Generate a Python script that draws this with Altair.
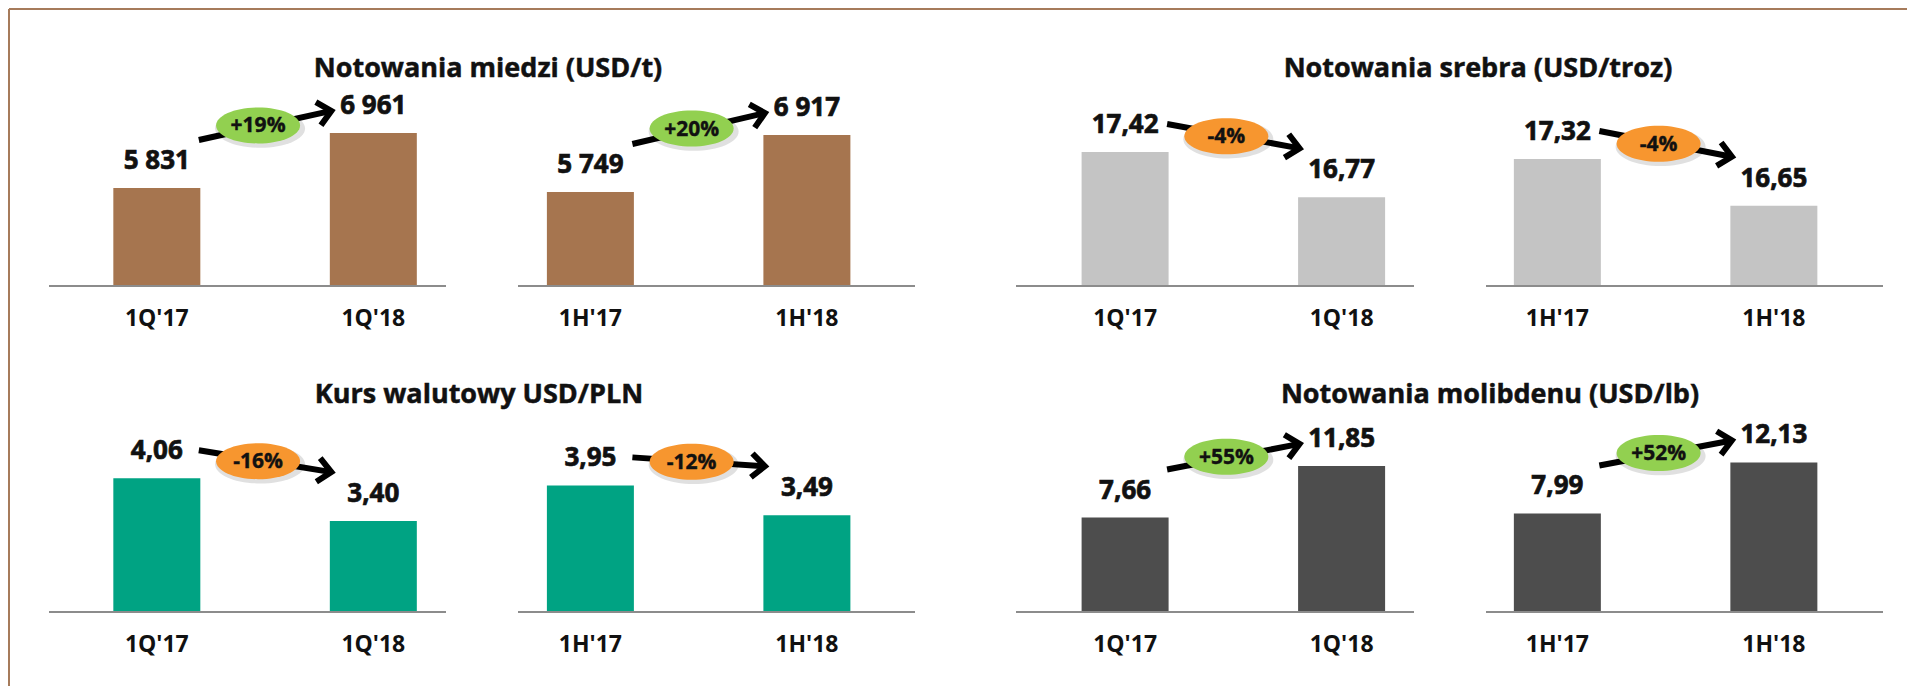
import math
import altair as alt
import pandas as pd

# ---------------- data ----------------
periods_q = ["1Q'17", "1Q'18"]
periods_h = ["1H'17", "1H'18"]

title_copper = "Notowania miedzi (USD/t)"
title_silver = "Notowania srebra (USD/troz)"
title_usdpln = "Kurs walutowy USD/PLN"
title_molyb = "Notowania molibdenu (USD/lb)"

copper_q = [5831, 6961]
copper_h = [5749, 6917]
silver_q = [17.42, 16.77]
silver_h = [17.32, 16.65]
usdpln_q = [4.06, 3.40]
usdpln_h = [3.95, 3.49]
molyb_q = [7.66, 11.85]
molyb_h = [7.99, 12.13]

copper_chg = ["+19%", "+20%"]
silver_chg = ["-4%", "-4%"]
usdpln_chg = ["-16%", "-12%"]
molyb_chg = ["+55%", "+52%"]

# ---------------- styles ----------------
FONT = "Open Sans"
TXT = "#111111"
BORDER = "#A67B5B"
AXIS_LINE = "#8C8C8C"
C_COPPER = "#A6754F"
C_SILVER = "#C4C4C4"
C_USDPLN = "#00A383"
C_MOLYB = "#4D4D4D"
C_UP = "#92D050"
C_DOWN = "#F7962F"

H = 200
STEP = 216.5
BW = 87
PI = 1 - BW / STEP

# y-scale domains (axis minimum as in the original charts)
dom_copper = [3820, 7923]
dom_silver = [15.5, 18.365]
dom_usdpln = [2.0, 5.08]
dom_molyb = [0.0, 16.22]

K = 0.5523
R = 36 / 84
ELLIPSE = (
    f"M 1 0 C 1 {K*R:.4f} {K:.4f} {R:.4f} 0 {R:.4f} "
    f"C {-K:.4f} {R:.4f} -1 {K*R:.4f} -1 0 "
    f"C -1 {-K*R:.4f} {-K:.4f} {-R:.4f} 0 {-R:.4f} "
    f"C {K:.4f} {-R:.4f} 1 {-K*R:.4f} 1 0 Z"
)
CHEVRON = "M -1 -0.9 L 0 0 L -1 0.9"


def fmt_copper(v):
    return f"{v:,}".replace(",", " ")


def fmt_dec(v):
    return f"{v:.2f}".replace(".", ",")


def panel(cats, vals, chg, color, dom, fmt, width, align, line,
          title=None, title_x=None, border=False):
    po = (width - STEP * (2 - PI)) / (2 * STEP)
    xs = alt.Scale(domain=cats, paddingInner=PI, paddingOuter=po, align=align)
    ys = alt.Scale(domain=dom, zero=False, nice=False)
    xaxis = alt.Axis(title=None, domain=False, ticks=False, tickSize=0, labelAngle=0,
                     labelPadding=21, labelFontSize=23, labelFont=FONT,
                     labelFontWeight="bold", labelColor=TXT, grid=False)

    def X(f):
        return alt.X(f"{f}:N", scale=xs, axis=xaxis, sort=cats, title=None)

    def Y(f):
        return alt.Y(f"{f}:Q", scale=ys, axis=None)

    df = pd.DataFrame({"cat": cats, "v": vals, "lab": [fmt(v) for v in vals]})

    bars = alt.Chart(df).mark_bar(color=color).encode(
        x=X("cat"), y=Y("v"), y2=alt.datum(dom[0]))

    base = alt.Chart(df.head(1)).mark_rule(color=AXIS_LINE, strokeWidth=2).encode(
        x=alt.value(line[0]), x2=alt.value(line[1]), y=alt.value(H))

    labels = alt.Chart(df).mark_text(
        dy=-27, fontSize=26, fontWeight="bold", font=FONT, color=TXT, baseline="middle",
        stroke=TXT, strokeWidth=0.7
    ).encode(x=X("cat"), y=Y("v"), text="lab:N")

    up = vals[1] > vals[0]
    s_off, e_off = (-20, 6) if up else (0, -21)
    adf = pd.DataFrame({"c1": [cats[0]], "c2": [cats[1]], "v1": [vals[0]],
                        "v2": [vals[1]], "vm": [(vals[0] + vals[1]) / 2], "t": [chg]})
    a_px = H / (dom[1] - dom[0])
    dxp = STEP - 84
    dyp = -(vals[1] - vals[0]) * a_px + (e_off - s_off)
    ang = math.degrees(math.atan2(dyp, dxp)) % 360

    arrow = alt.Chart(adf).mark_rule(
        color="black", strokeWidth=6, xOffset=42, x2Offset=-42,
        yOffset=-28 + s_off, y2Offset=-28 + e_off
    ).encode(x=X("c1"), x2="c2", y=Y("v1"), y2="v2")

    head = alt.Chart(adf).mark_point(
        shape=CHEVRON, size=700, filled=False, color="black", strokeWidth=6,
        strokeJoin="miter", angle=ang, opacity=1, xOffset=-42, yOffset=-28 + e_off
    ).encode(x=X("c2"), y=Y("v2"))

    bdx = STEP / 2 - 7
    bdy = -28 + (s_off + e_off) / 2
    shadow = alt.Chart(adf).mark_point(
        shape=ELLIPSE, size=90 ** 2, filled=True, color="#000000", opacity=0.12,
        strokeWidth=0, xOffset=bdx + 2, yOffset=bdy + 3
    ).encode(x=X("c1"), y=Y("vm"))
    badge = alt.Chart(adf).mark_point(
        shape=ELLIPSE, size=84 ** 2, filled=True, color=C_UP if up else C_DOWN,
        opacity=1, strokeWidth=0, xOffset=bdx, yOffset=bdy
    ).encode(x=X("c1"), y=Y("vm"))
    btext = alt.Chart(adf).mark_text(
        dx=bdx, dy=bdy + 1, fontSize=21, fontWeight="bold", font=FONT, color=TXT,
        baseline="middle", stroke=TXT, strokeWidth=0.4
    ).encode(x=X("c1"), y=Y("vm"), text="t:N")

    layers = [bars, base, labels, arrow, head, shadow, badge, btext]

    if title is not None:
        tdf = pd.DataFrame({"t": [title]})
        layers.append(alt.Chart(tdf).mark_text(
            fontSize=27, fontWeight="bold", font=FONT, color=TXT, baseline="middle",
            align="center", stroke=TXT, strokeWidth=0.5
        ).encode(x=alt.value(title_x), y=alt.value(-17), text="t:N"))

    if border:
        bdf = pd.DataFrame({"b": [0]})
        layers.append(alt.Chart(bdf).mark_rule(color=BORDER, strokeWidth=2).encode(
            x=alt.value(-40), x2=alt.value(1858), y=alt.value(-77)))
        layers.append(alt.Chart(bdf).mark_rule(color=BORDER, strokeWidth=2).encode(
            x=alt.value(-40), y=alt.value(-77), y2=alt.value(600)))

    return alt.layer(*layers).properties(width=width, height=H)


p1 = panel(periods_q, copper_q, copper_chg[0], C_COPPER, dom_copper, fmt_copper,
           397, 0.688, (0, 397), title_copper, 439, border=True)
p2 = panel(periods_h, copper_h, copper_chg[1], C_COPPER, dom_copper, fmt_copper,
           397, 0.309, (0, 397))
p3 = panel(periods_q, silver_q, silver_chg[0], C_SILVER, dom_silver, fmt_dec,
           427, 0.766, (29, 427), title_silver, 491)
p4 = panel(periods_h, silver_h, silver_chg[1], C_SILVER, dom_silver, fmt_dec,
           397, 0.298, (0, 397))

p5 = panel(periods_q, usdpln_q, usdpln_chg[0], C_USDPLN, dom_usdpln, fmt_dec,
           397, 0.688, (0, 397), title_usdpln, 430)
p6 = panel(periods_h, usdpln_h, usdpln_chg[1], C_USDPLN, dom_usdpln, fmt_dec,
           397, 0.309, (0, 397))
p7 = panel(periods_q, molyb_q, molyb_chg[0], C_MOLYB, dom_molyb, fmt_dec,
           427, 0.766, (29, 427), title_molyb, 503)
p8 = panel(periods_h, molyb_h, molyb_chg[1], C_MOLYB, dom_molyb, fmt_dec,
           397, 0.298, (0, 397))

chart = alt.concat(
    p1, p2, p3, p4, p5, p6, p7, p8,
    columns=4,
    spacing=alt.RowColnumber(row=126, column=72),
    bounds="flush",
    align="each",
).properties(padding=0).configure_view(strokeWidth=0).resolve_scale(
    x="independent", y="independent")

chart.save("out.html", embed_options={"renderer": "svg", "actions": False})
